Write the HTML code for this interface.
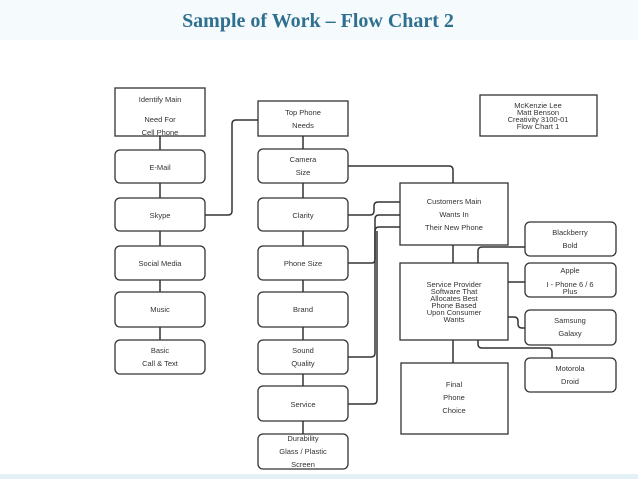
<!DOCTYPE html>
<html><head><style>
body{margin:0;width:638px;height:479px;overflow:hidden;background:#fff;}
svg{display:block}
text{font-family:"Liberation Sans",sans-serif;font-size:7.5px;fill:#333;text-anchor:middle}
</style></head><body>
<svg width="638" height="479" viewBox="0 0 638 479">
<rect x="0" y="0" width="638" height="40" fill="#f5fafc"/>
<rect x="0" y="474" width="638" height="5" fill="#e3f0f5"/>
<text x="318" y="27" style="font-family:'Liberation Serif',serif;font-weight:bold;font-size:20px;fill:#2f6f8f">Sample of Work – Flow Chart 2</text>
<g fill="none" stroke="#333" stroke-width="1.5">
<!-- left column links -->
<line x1="160" y1="136" x2="160" y2="150"/>
<line x1="160" y1="183" x2="160" y2="198"/>
<line x1="160" y1="231" x2="160" y2="246"/>
<line x1="160" y1="280" x2="160" y2="292"/>
<line x1="160" y1="327" x2="160" y2="340"/>
<!-- middle column links -->
<line x1="303" y1="136" x2="303" y2="149"/>
<line x1="303" y1="183" x2="303" y2="198"/>
<line x1="303" y1="231" x2="303" y2="246"/>
<line x1="303" y1="280" x2="303" y2="292"/>
<line x1="303" y1="327" x2="303" y2="340"/>
<line x1="303" y1="374" x2="303" y2="386"/>
<line x1="303" y1="421" x2="303" y2="434"/>
<path d="M205 215 H228 Q232 215 232 211 V124 Q232 120 236 120 H258"/>
<path d="M348 166 H449 Q453 166 453 170 V183"/>
<path d="M348 215 H370 Q374 215 374 211 V206 Q374 202 378 202 H400"/>
<path d="M348 263 H372 Q375 263 375 259 V219 Q375 215 379 215 H400"/>
<path d="M348 357 H371 Q375 357 375 353 V231 Q375 227 379 227 H400"/>
<path d="M348 404 H373 Q377 404 377 400 V231"/>
<line x1="453" y1="245" x2="453" y2="263"/>
<line x1="453" y1="340" x2="453" y2="363"/>
<path d="M478 263 V251 Q478 247 482 247 H525"/>
<line x1="508" y1="282" x2="525" y2="282"/>
<path d="M508 317 H514 Q518 317 518 321 V324 Q518 328 522 328 H525"/>
<path d="M478 340 V344 Q478 348 482 348 H548 Q552 348 552 352 V358"/>
</g>
<g fill="#fff" stroke="#333" stroke-width="1.3">
<rect x="115" y="88" width="90" height="48"/>
<rect x="115" y="150" width="90" height="33" rx="5"/>
<rect x="115" y="198" width="90" height="33" rx="5"/>
<rect x="115" y="246" width="90" height="34" rx="5"/>
<rect x="115" y="292" width="90" height="35" rx="5"/>
<rect x="115" y="340" width="90" height="34" rx="5"/>
<rect x="258" y="101" width="90" height="35"/>
<rect x="258" y="149" width="90" height="34" rx="5"/>
<rect x="258" y="198" width="90" height="33" rx="5"/>
<rect x="258" y="246" width="90" height="34" rx="5"/>
<rect x="258" y="292" width="90" height="35" rx="5"/>
<rect x="258" y="340" width="90" height="34" rx="5"/>
<rect x="258" y="386" width="90" height="35" rx="5"/>
<rect x="258" y="434" width="90" height="35" rx="5"/>
<rect x="400" y="183" width="108" height="62"/>
<rect x="400" y="263" width="108" height="77"/>
<rect x="401" y="363" width="107" height="71"/>
<rect x="525" y="222" width="91" height="34" rx="5"/>
<rect x="525" y="263" width="91" height="34" rx="5"/>
<rect x="525" y="310" width="91" height="35" rx="5"/>
<rect x="525" y="358" width="91" height="34" rx="5"/>
<rect x="480" y="95" width="117" height="41"/>
</g>
<text x="160" y="102">Identify Main</text>
<text x="160" y="122">Need For</text>
<text x="160" y="135">Cell Phone</text>
<text x="160" y="170">E-Mail</text>
<text x="160" y="218">Skype</text>
<text x="160" y="266">Social Media</text>
<text x="160" y="312">Music</text>
<text x="160" y="353">Basic</text>
<text x="160" y="366">Call &amp; Text</text>
<text x="303" y="115">Top Phone</text>
<text x="303" y="128">Needs</text>
<text x="303" y="162">Camera</text>
<text x="303" y="175">Size</text>
<text x="303" y="218">Clarity</text>
<text x="303" y="266">Phone Size</text>
<text x="303" y="312">Brand</text>
<text x="303" y="353">Sound</text>
<text x="303" y="366">Quality</text>
<text x="303" y="407">Service</text>
<text x="303" y="441">Durability</text>
<text x="303" y="454">Glass / Plastic</text>
<text x="303" y="467">Screen</text>
<text x="454" y="204">Customers Main</text>
<text x="454" y="217">Wants In</text>
<text x="454" y="230">Their New Phone</text>
<text x="454" y="287">Service Provider</text>
<text x="454" y="294">Software That</text>
<text x="454" y="301">Allocates Best</text>
<text x="454" y="308">Phone Based</text>
<text x="454" y="315">Upon Consumer</text>
<text x="454" y="322">Wants</text>
<text x="454" y="387">Final</text>
<text x="454" y="400">Phone</text>
<text x="454" y="413">Choice</text>
<text x="570" y="235">Blackberry</text>
<text x="570" y="248">Bold</text>
<text x="570" y="273">Apple</text>
<text x="570" y="287">I - Phone 6 / 6</text>
<text x="570" y="294">Plus</text>
<text x="570" y="323">Samsung</text>
<text x="570" y="336">Galaxy</text>
<text x="570" y="371">Motorola</text>
<text x="570" y="384">Droid</text>
<text x="538" y="108">McKenzie Lee</text>
<text x="538" y="115">Matt Benson</text>
<text x="538" y="122">Creativity 3100-01</text>
<text x="538" y="129">Flow Chart 1</text>
</svg>
</body></html>
